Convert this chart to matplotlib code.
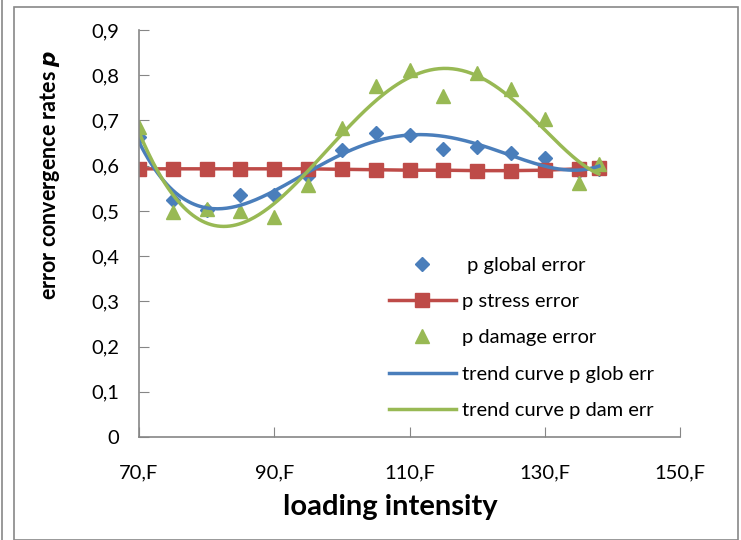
import numpy as np
import matplotlib
matplotlib.use('Agg')
import matplotlib.pyplot as plt
from matplotlib.patches import Rectangle

plt.rcParams['font.family'] = ['Lato', 'DejaVu Sans']

# loading intensity (multiples of F)
x_glob = [70, 75, 80, 85, 90, 95, 100, 105, 110, 115, 120, 125, 130, 135, 138]
p_global = [0.664, 0.524, 0.503, 0.535, 0.535, 0.577, 0.635, 0.672, 0.667,
            0.637, 0.642, 0.629, 0.617, 0.589, 0.592]

x_all = [70, 75, 80, 85, 90, 95, 100, 105, 110, 115, 120, 125, 130, 135, 138]
p_stress = [0.593, 0.593, 0.593, 0.593, 0.593, 0.593, 0.592, 0.591, 0.590,
            0.590, 0.589, 0.589, 0.590, 0.593, 0.594]
p_damage = [0.685, 0.497, 0.504, 0.500, 0.487, 0.558, 0.683, 0.777, 0.812,
            0.755, 0.805, 0.770, 0.703, 0.562, 0.604]

x_ticks = [70, 90, 110, 130, 150]
x_ticklabels = ['70,F', '90,F', '110,F', '130,F', '150,F']
y_ticks = [0, 0.1, 0.2, 0.3, 0.4, 0.5, 0.6, 0.7, 0.8, 0.9]
y_ticklabels = ['0', '0,1', '0,2', '0,3', '0,4', '0,5', '0,6', '0,7', '0,8', '0,9']

blue = '#4a7ebb'
red = '#be4b48'
green = '#98b954'

fig = plt.figure(figsize=(7.41, 5.40), dpi=100)
fig.patches.append(Rectangle((14 / 741, 0), 724 / 741, 533 / 540, transform=fig.transFigure,
                             fill=False, edgecolor='#888888', lw=1.2))
fig.patches.append(Rectangle((2 / 741, 0), 0, 1, transform=fig.transFigure,
                             fill=False, edgecolor='#888888', lw=1.2))
ax = fig.add_axes([139 / 741, 1 - 437 / 540, 541 / 741, 407 / 540])

# polynomial trend curves
xs = np.linspace(70, 138, 300)
fit_g = np.polyfit(x_glob, p_global, 4)
fit_d = np.polyfit(x_all, p_damage, 5)

ax.plot(x_glob, p_global, 'D', color=blue, ms=7, ls='none', label=' p global error')
ax.plot(x_all, p_stress, 's-', color=red, ms=10, lw=2.5, label='p stress error')
ax.plot(x_all, p_damage, '^', color=green, ms=10, ls='none', label='p damage error')
ax.plot(xs, np.polyval(fit_g, xs), color=blue, lw=2.5, label='trend curve p glob err')
ax.plot(xs, np.polyval(fit_d, xs), color=green, lw=2.5, label='trend curve p dam err')

ax.set_xlim(70, 150)
ax.set_ylim(0, 0.9)
ax.set_xticks(x_ticks)
ax.set_xticklabels(x_ticklabels)
ax.set_yticks(y_ticks)
ax.set_yticklabels(y_ticklabels)
ax.tick_params(direction='in', length=7, color='#868686', labelsize=14.5)
ax.tick_params(axis='y', pad=14)
ax.tick_params(axis='x', pad=20)
for s in ['top', 'right']:
    ax.spines[s].set_visible(False)
for s in ['left', 'bottom']:
    ax.spines[s].set_color('#868686')
    ax.spines[s].set_linewidth(1.2)

ax.set_xlabel('loading intensity', fontsize=21, fontweight='bold')
ax.xaxis.set_label_coords(0.464, -0.14)
ax.set_ylabel('error convergence rates $\\boldsymbol{p}$', fontsize=15.5, fontweight='bold')
ax.yaxis.set_label_coords(-0.143, 0.644)

ax.legend(loc='lower right', bbox_to_anchor=(0.985, 0.0), frameon=False, fontsize=14.5,
          handlelength=3.3, labelspacing=0.95, handletextpad=0.3)

fig.savefig('out.png', dpi=100)
